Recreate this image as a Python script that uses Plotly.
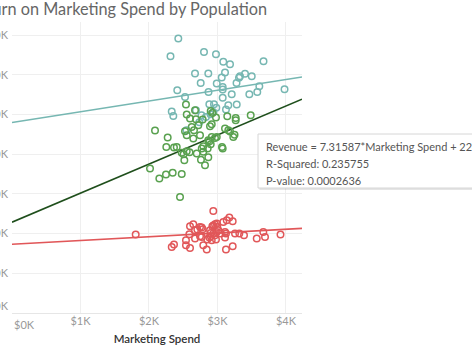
import plotly.graph_objects as go

# ---- data ----
teal_spend = [2428, 2314, 2803, 2978, 3085, 3183, 3672, 2672, 2866, 3110, 3062, 2755, 2989,
              3402, 3329, 3314, 3500, 3278, 3076, 3076, 3611, 3979, 2413, 2869, 3208, 3465,
              3581, 2526, 3076, 2881, 2949, 2983, 3158, 3281, 3124, 2332, 2355, 2686, 2767,
              2832, 2898, 2735, 2548, 2939]
teal_rev = [69120, 64700, 65740, 65170, 63280, 62650, 63400, 60300, 60300, 60560, 59300, 57940, 57790,
            60250, 59620, 59250, 59620, 57940, 56930, 56280, 57100, 56350, 56100, 55670, 55090, 55090,
            55670, 54410, 54210, 52570, 52570, 51690, 52320, 52500, 51240, 50730, 49620, 51060, 49800,
            49370, 50050, 48040, 46020, 50630]

green_spend = [2540, 2551, 2599, 2686, 2784, 2901, 2927, 2978, 3143, 3266, 3266, 3485, 2891, 2916,
               2720, 2624, 2088, 2526, 2551, 2745, 2657, 3158, 3183, 2989, 2866, 2884, 3231, 3249,
               2273, 2647, 2901, 2793, 2857, 3066, 3076, 2253, 2365, 2405, 2478, 2505, 2551, 2592,
               2697, 2793, 2770, 2516, 2759, 2866, 2818, 2015, 2151, 2248, 2346, 2478, 2453, 3110,
               2916, 2964, 2672]
green_rev = [52500, 49980, 48970, 48790, 48720, 50880, 50380, 49250, 49550, 49120, 48540, 49800, 47030, 47530,
             47280, 46850, 45950, 45770, 44760, 44760, 46020, 46020, 45690, 44330, 43500, 43250, 44330, 44890,
             44180, 43930, 42500, 41990, 41410, 41820, 41410, 41820, 41670, 41820, 40350, 40000, 40730, 40480,
             40150, 40610, 41410, 38470, 38590, 39220, 37210, 36370, 33860, 34860, 35320, 35010, 29220, 46450,
             44330, 44080, 51060]

red_spend = [1806, 2939, 2332, 2365, 2540, 2540, 2599, 2589, 2599, 2647, 2672, 2706, 2770, 2784,
             2745, 2770, 2793, 2843, 2851, 2891, 2901, 2939, 2989, 2997, 2916, 2978, 2989, 3012,
             2901, 3085, 3135, 3173, 3222, 3110, 3124, 3110, 3124, 3222, 3256, 3319, 3387, 3573,
             3669, 3694, 3920, 2939, 2964, 3047, 2672, 2745, 2881, 2925, 2964]
red_rev = [19750, 25690, 16630, 17230, 18310, 17050, 16370, 19820, 21840, 22340, 18740, 21010, 21510, 21080,
           19320, 19140, 17050, 15970, 18490, 20830, 20150, 22020, 22520, 21660, 18310, 18490, 20400, 20830,
           19320, 22920, 23350, 24030, 23100, 20400, 20000, 18990, 15970, 16800, 20000, 20000, 19570, 18740,
           20400, 19140, 19750, 20000, 19570, 20000, 20830, 21660, 18990, 21840, 22340]

# trend lines: slope, intercept
trend_slope = {"teal": 2.70, "green": 7.31587, "red": 0.95}
trend_icpt = {"teal": 48000, "green": 22880, "red": 17300}

x_ticks = [0, 1000, 2000, 3000, 4000]
x_labels = ["$0K", "$1K", "$2K", "$3K", "$4K"]
y_ticks = [0, 10000, 20000, 30000, 40000, 50000, 60000, 70000]
y_labels = ["$0K", "$10K", "$20K", "$30K", "$40K", "$50K", "$60K", "$70K"]

tooltip_lines = ["Revenue = 7.31587*Marketing Spend + 22880.4",
                 "R-Squared: 0.235755",
                 "P-value: 0.0002636"]

X_MAX = 4234
Y_MAX = 73300

colors = {"teal": "#76b7b2", "green": "#59a14f", "red": "#e15759"}
line_colors = {"teal": "#76b7b2", "green": "#1f4f1c", "red": "#e15759"}

fig = go.Figure()
for key in ["teal", "green", "red"]:
    fig.add_trace(go.Scatter(
        x=[0, X_MAX],
        y=[trend_icpt[key], trend_icpt[key] + trend_slope[key] * X_MAX],
        mode="lines", line=dict(color=line_colors[key], width=1.6),
        hoverinfo="skip", showlegend=False))
for key, xs, ys in [("teal", teal_spend, teal_rev), ("green", green_spend, green_rev), ("red", red_spend, red_rev)]:
    fig.add_trace(go.Scatter(
        x=xs, y=ys, mode="markers",
        marker=dict(symbol="circle-open", size=6.5, color=colors[key], line=dict(width=1.5, color=colors[key])),
        showlegend=False))

FONT = "Lato, Open Sans, sans-serif"
TICK_FONT = dict(family=FONT, size=11, color="#999")

# first x tick label is nudged inside (as in the reference) and drawn as an annotation;
# the bottom y tick label is lifted by an empty second line
x_text = [""] + x_labels[1:]
y_text = [y_labels[0] + "<br>\u00a0"] + y_labels[1:]

fig.update_layout(
    width=472, height=354,
    margin=dict(l=12, r=170, t=22, b=41),
    paper_bgcolor="white", plot_bgcolor="white",
    font=dict(family=FONT, color="#888"),
    title=dict(text="Return on Marketing Spend by Population",
               xref="container", x=267 / 472, xanchor="right",
               yref="container", y=1 - 9 / 354, yanchor="middle",
               font=dict(family=FONT, size=16.3, color="#666")),
    xaxis=dict(range=[0, X_MAX], tickvals=x_ticks, ticktext=x_text,
               showgrid=True, gridcolor="#efefef", gridwidth=1,
               zeroline=False, showline=False, ticks="",
               tickfont=TICK_FONT,
               title=dict(text="Marketing Spend", font=dict(size=11.5, color="#333", weight=600), standoff=8),
               automargin=False),
    yaxis=dict(range=[0, Y_MAX], tickvals=y_ticks, ticktext=y_text,
               showgrid=True, gridcolor="#efefef", gridwidth=1,
               zeroline=True, zerolinecolor="#e6e6e6", zerolinewidth=1,
               showline=False, ticks="", ticklabelstandoff=3,
               tickfont=TICK_FONT,
               automargin=False),
)

def px_x(p):
    return (p - 12) / 290

def px_y(p):
    return (313 - p) / 291

fig.add_annotation(x=x_ticks[0], y=0, xref="x", yref="paper", text=x_labels[0],
                   xanchor="left", yanchor="top", xshift=0, yshift=-3,
                   showarrow=False, font=TICK_FONT)

# tooltip-like box
fig.add_shape(type="rect", xref="paper", yref="paper",
              x0=px_x(259.5), x1=2.0, y0=px_y(190), y1=px_y(136),
              fillcolor="rgba(0,0,0,0.10)", line=dict(width=0), layer="above")
fig.add_shape(type="rect", xref="paper", yref="paper",
              x0=px_x(258), x1=2.0, y0=px_y(188), y1=px_y(134),
              fillcolor="white", line=dict(width=1, color="#d6d6d6"), layer="above")
for line, yc in zip(tooltip_lines, [146, 163.5, 180]):
    fig.add_annotation(xref="paper", yref="paper", x=px_x(264), y=px_y(yc),
                       xanchor="left", yanchor="middle", text=line, showarrow=False,
                       font=dict(family=FONT, size=11.0, color="#555"))

fig.write_html("out.html")
